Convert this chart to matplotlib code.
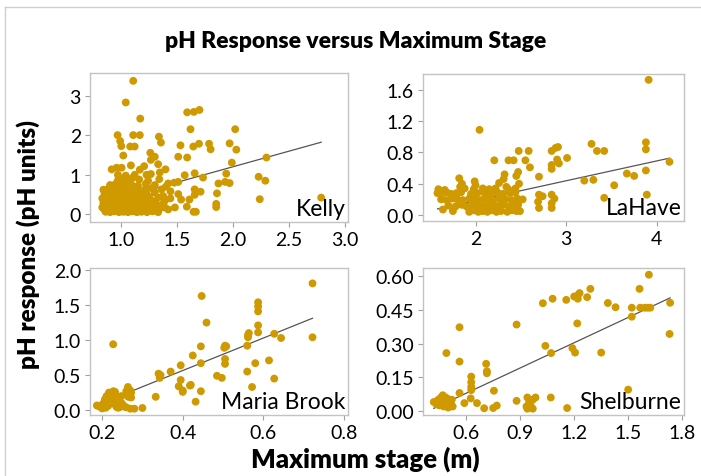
import numpy as np
import matplotlib
matplotlib.use("Agg")
import matplotlib.pyplot as plt
from matplotlib.lines import Line2D

plt.rcParams['font.family'] = ['Lato', 'DejaVu Sans']

# === Data ===
kelly_x = [1.107, 1.04, 1.17, 1.59, 1.65, 1.70, 1.62, 0.967, 1.107, 1.166, 0.99, 1.0, 1.018, 1.08, 1.12,
           1.337, 1.355, 1.26, 1.30, 1.265, 1.53, 1.51, 1.59, 1.645, 1.696, 1.786, 1.80, 1.086, 1.166, 1.205,
           0.914, 0.958, 1.003, 1.33, 1.345, 1.396, 1.265, 1.226, 1.568, 1.657, 1.732, 1.51, 1.474, 1.42,
           1.87, 1.93, 1.71, 1.657, 1.51, 1.536, 1.61, 1.657, 1.857, 1.85, 1.85, 1.48, 1.587, 1.647, 1.668,
           1.375, 1.39, 1.32, 1.39, 2.02, 1.97, 2.03, 1.99, 1.94, 1.97, 2.30, 2.23, 2.29, 2.24, 2.79,
           0.86, 0.90, 0.94, 0.98, 1.02, 1.06, 1.10, 1.14, 1.18, 1.23, 1.28, 1.33,
           0.83, 0.87, 0.91, 0.95, 0.99, 1.03, 1.07, 1.11, 1.15, 1.19, 1.24, 1.29, 1.35, 1.42,
           0.84, 0.88, 0.92, 0.96, 1.00, 1.04, 1.08, 1.12, 1.16, 1.21, 1.26, 1.31, 1.37,
           0.83, 0.87, 0.91, 0.95, 0.99, 1.03, 1.07, 1.11, 1.15, 1.20, 1.25, 1.33, 1.44,
           0.85, 0.89, 0.93, 0.97, 1.01, 1.05, 1.09, 1.13, 1.18, 1.23, 1.30,
           0.84, 0.88, 0.92, 0.96, 1.00, 1.04, 1.08, 1.14, 1.21, 1.27, 1.36, 1.44,
           0.90, 0.95, 1.00, 1.04, 1.09, 1.15, 1.22, 1.30, 1.40,
           0.97, 1.02, 1.06, 1.10, 1.16, 1.24, 1.34, 1.04, 1.12, 0.97,
           0.85, 0.89, 0.93, 0.97, 1.01, 1.05, 1.09, 1.13, 1.17, 1.21, 1.26, 1.31,
           0.86, 0.90, 0.94, 0.98, 1.02, 1.06, 1.10, 1.14, 1.18, 1.22, 1.27,
           0.85, 0.89, 0.93, 0.97, 1.01, 1.05, 1.09, 1.13, 1.17, 1.22, 1.28,
           0.87, 0.91, 0.95, 0.99, 1.03, 1.07, 1.11, 1.16, 1.20, 1.25]
kelly_y = [3.39, 2.84, 2.43, 2.59, 2.60, 2.65, 2.16, 2.01, 2.01, 2.01, 1.86, 1.73, 1.49, 1.72, 1.72,
           1.97, 1.82, 1.56, 1.46, 1.38, 1.75, 1.46, 1.44, 1.72, 1.79, 1.79, 1.65, 1.24, 1.13, 1.22,
           1.14, 1.18, 1.18, 1.27, 1.06, 1.14, 1.02, 1.00, 0.99, 1.04, 0.93, 0.82, 0.80, 0.78,
           0.78, 0.82, 0.57, 0.63, 0.51, 0.37, 0.37, 0.49, 0.53, 0.26, 0.18, 0.17, 0.19, 0.06, 0.06,
           0.46, 0.34, 0.21, 0.17, 2.16, 1.80, 1.64, 1.31, 1.03, 0.79, 1.44, 0.95, 0.85, 0.38, 0.42,
           0.06, 0.05, 0.07, 0.05, 0.06, 0.05, 0.07, 0.05, 0.06, 0.05, 0.07, 0.05,
           0.17, 0.15, 0.18, 0.14, 0.17, 0.15, 0.18, 0.14, 0.17, 0.15, 0.18, 0.14, 0.16, 0.12,
           0.28, 0.26, 0.29, 0.25, 0.28, 0.26, 0.29, 0.25, 0.28, 0.26, 0.30, 0.27, 0.25,
           0.40, 0.37, 0.39, 0.36, 0.40, 0.37, 0.39, 0.36, 0.40, 0.37, 0.39, 0.42, 0.40,
           0.52, 0.49, 0.53, 0.50, 0.54, 0.49, 0.52, 0.48, 0.53, 0.50, 0.55,
           0.62, 0.64, 0.60, 0.66, 0.62, 0.65, 0.60, 0.64, 0.62, 0.66, 0.63, 0.58,
           0.74, 0.77, 0.73, 0.78, 0.75, 0.72, 0.77, 0.74, 0.70,
           0.86, 0.90, 0.87, 0.92, 0.88, 0.85, 0.89, 0.98, 1.00, 1.00,
           0.11, 0.10, 0.12, 0.10, 0.11, 0.12, 0.10, 0.11, 0.12, 0.10, 0.11, 0.10,
           0.22, 0.21, 0.23, 0.21, 0.22, 0.23, 0.21, 0.22, 0.23, 0.21, 0.22,
           0.33, 0.32, 0.34, 0.32, 0.33, 0.34, 0.32, 0.33, 0.34, 0.32, 0.33,
           0.45, 0.44, 0.46, 0.44, 0.45, 0.46, 0.44, 0.45, 0.46, 0.44]

lahave_x = [2.044, 2.476, 2.586, 2.207, 2.364, 2.42, 2.55, 2.60, 2.47, 2.45, 2.32, 2.31, 2.70, 1.82, 1.85,
            1.83, 1.99, 2.0, 2.26, 2.34, 2.48, 2.44, 2.70, 2.74, 2.69, 2.70, 2.84, 2.885, 2.91, 2.90,
            2.92, 2.84, 2.84, 3.01, 2.84, 2.87, 2.84, 2.84, 3.28, 3.34, 3.42, 3.20, 3.30, 3.53, 3.42,
            3.67, 3.75, 3.88, 3.88, 3.88, 3.89, 3.91, 4.14,
            1.64, 1.75, 1.93, 1.98, 2.03, 2.08, 2.13, 2.18, 2.23, 2.28, 2.35, 2.40, 2.45, 2.49,
            1.70, 1.78, 1.85, 1.90, 1.96, 2.01, 2.06, 2.11, 2.16, 2.21, 2.26, 2.31, 2.37, 2.42, 2.47,
            1.62, 1.68, 1.74, 1.80, 1.86, 1.93, 1.99, 2.05, 2.10, 2.15, 2.20, 2.27, 2.33, 2.40, 2.46, 2.52,
            1.58, 1.63, 1.68, 1.73, 1.79, 1.84, 1.95, 2.02, 2.09, 2.14, 2.19, 2.24, 2.30, 2.38, 2.44,
            1.59, 1.66, 1.88, 1.98, 2.08, 2.15, 2.22, 2.36]
lahave_y = [1.09, 0.82, 0.82, 0.70, 0.70, 0.70, 0.70, 0.61, 0.55, 0.50, 0.52, 0.46, 0.49, 0.47, 0.40,
            0.36, 0.43, 0.38, 0.41, 0.36, 0.40, 0.34, 0.26, 0.24, 0.17, 0.09, 0.82, 0.86, 0.87, 0.71,
            0.66, 0.64, 0.59, 0.73, 0.26, 0.21, 0.15, 0.09, 0.91, 0.82, 0.82, 0.44, 0.45, 0.38, 0.22,
            0.53, 0.50, 0.93, 0.84, 0.57, 0.26, 1.73, 0.68,
            0.07, 0.05, 0.04, 0.06, 0.04, 0.05, 0.04, 0.06, 0.04, 0.05, 0.04, 0.06, 0.05, 0.05,
            0.12, 0.11, 0.13, 0.11, 0.12, 0.13, 0.11, 0.12, 0.13, 0.11, 0.12, 0.13, 0.11, 0.12, 0.13,
            0.20, 0.19, 0.21, 0.20, 0.19, 0.21, 0.20, 0.19, 0.21, 0.20, 0.19, 0.21, 0.20, 0.19, 0.21, 0.20,
            0.28, 0.27, 0.29, 0.27, 0.28, 0.29, 0.27, 0.28, 0.29, 0.27, 0.28, 0.29, 0.27, 0.28, 0.29,
            0.33, 0.32, 0.34, 0.33, 0.34, 0.33, 0.34, 0.33]

maria_x = [0.447, 0.459, 0.2275, 0.445, 0.425, 0.445, 0.395, 0.37, 0.34, 0.343, 0.345, 0.395, 0.39, 0.40,
           0.40, 0.42, 0.333, 0.432, 0.445, 0.264, 0.27, 0.272, 0.26, 0.265, 0.272, 0.26, 0.27, 0.28, 0.30,
           0.19, 0.202, 0.207, 0.211, 0.215, 0.217, 0.223, 0.228, 0.232, 0.220, 0.232, 0.236, 0.24, 0.244,
           0.209, 0.20, 0.23, 0.236, 0.24, 0.248, 0.244, 0.187, 0.197, 0.215, 0.225, 0.21, 0.25, 0.255,
           0.503, 0.505, 0.508, 0.505, 0.505, 0.485, 0.497, 0.56, 0.562, 0.562, 0.564, 0.587, 0.587, 0.587,
           0.587, 0.587, 0.56, 0.572, 0.58, 0.614, 0.627, 0.644, 0.627, 0.722, 0.722, 0.418]
maria_y = [1.63, 1.25, 0.94, 0.91, 0.78, 0.67, 0.64, 0.55, 0.52, 0.46, 0.50, 0.43, 0.34, 0.28,
           0.26, 0.36, 0.19, 0.12, 0.27, 0.33, 0.28, 0.25, 0.27, 0.19, 0.18, 0.04, 0.02, 0.02, 0.03,
           0.06, 0.09, 0.153, 0.20, 0.153, 0.25, 0.215, 0.27, 0.26, 0.105, 0.081, 0.043, 0.033, 0.043,
           0.033, 0.024, 0.18, 0.20, 0.18, 0.20, 0.129, 0.066, 0.04, 0.06, 0.13, 0.12, 0.09, 0.05,
           0.89, 0.92, 0.91, 0.73, 0.66, 0.49, 0.46, 0.92, 1.07, 1.04, 1.10, 1.54, 1.48, 1.41,
           1.21, 1.11, 0.55, 0.33, 0.67, 0.71, 1.09, 1.03, 0.45, 1.81, 1.04, 0.35]

shel_x = [1.026, 1.08, 0.88, 0.563, 0.49, 0.563, 1.04, 1.072, 0.711, 0.715, 0.715, 0.628, 0.628, 0.628,
          0.628, 0.563, 0.754, 0.625, 0.59, 0.66, 0.70, 0.75, 0.77, 0.88, 0.94, 0.935, 0.95, 0.97, 0.985,
          0.96, 0.94, 0.97, 1.07, 1.615, 1.563, 1.29, 1.156, 1.20, 1.22, 1.23, 1.22, 1.272, 1.387, 1.43,
          1.52, 1.567, 1.593, 1.608, 1.623, 1.52, 1.733, 1.73, 1.217, 1.19, 1.205, 1.35, 1.5, 1.161,
          0.42, 0.435, 0.445, 0.45, 0.46, 0.465, 0.47, 0.475, 0.48, 0.49, 0.495, 0.50, 0.505, 0.515,
          0.52, 0.525, 0.455, 0.485]
shel_y = [0.48, 0.50, 0.385, 0.373, 0.258, 0.22, 0.29, 0.258, 0.21, 0.177, 0.168, 0.153, 0.128, 0.108,
          0.093, 0.08, 0.09, 0.056, 0.035, 0.035, 0.012, 0.013, 0.024, 0.045, 0.06, 0.02, 0.04, 0.05, 0.06,
          0.02, 0.01, 0.01, 0.06, 0.607, 0.544, 0.544, 0.495, 0.51, 0.515, 0.525, 0.50, 0.507, 0.481, 0.462,
          0.46, 0.46, 0.46, 0.46, 0.46, 0.42, 0.482, 0.343, 0.39, 0.28, 0.26, 0.26, 0.095, 0.013,
          0.04, 0.03, 0.05, 0.025, 0.06, 0.035, 0.07, 0.02, 0.045, 0.03, 0.055, 0.015, 0.04, 0.03,
          0.05, 0.02, 0.045, 0.06]

# fitted lines (slope, intercept)
fits = {"Kelly": (0.79, -0.375), "LaHave": (0.254, -0.324),
        "Maria Brook": (2.32, -0.363), "Shelburne": (0.375, -0.146)}

panels = [
    ("Kelly", kelly_x, kelly_y, [0.1284, 0.5325, 0.368, 0.3124], (0.72, 3.03), (-0.2, 3.59),
     [1.0, 1.5, 2.0, 2.5, 3.0], "{:.1f}", [0, 1, 2, 3], "{:.0f}"),
    ("LaHave", lahave_x, lahave_y, [0.6034, 0.5346, 0.3723, 0.3082], (1.42, 4.30), (-0.077, 1.805),
     [2, 3, 4], "{:.0f}", [0.0, 0.4, 0.8, 1.2, 1.6], "{:.1f}"),
    ("Maria Brook", maria_x, maria_y, [0.1284, 0.1279, 0.368, 0.3082], (0.17, 0.81), (-0.07, 2.03),
     [0.2, 0.4, 0.6, 0.8], "{:.1f}", [0.0, 0.5, 1.0, 1.5, 2.0], "{:.1f}"),
    ("Shelburne", shel_x, shel_y, [0.6034, 0.1279, 0.3723, 0.3082], (0.36, 1.81), (-0.018, 0.637),
     [0.6, 0.9, 1.2, 1.5, 1.8], "{:.1f}", [0.0, 0.15, 0.30, 0.45, 0.60], "{:.2f}"),
]

dot_color = '#CF9900'
frame_color = '#c3c3c3'

fig = plt.figure(figsize=(7.01, 4.77), dpi=100)

for name, xs, ys, rect, xl, yl, xt, xf, yt, yf in panels:
    ax = fig.add_axes(rect)
    # fit line sits under the dots
    m, b = fits[name]
    lx = np.array([min(xs), max(xs)])
    ax.plot(lx, m * lx + b, color='#555555', lw=0.9, zorder=1)
    ax.scatter(xs, ys, s=32, color=dot_color, edgecolors='none', zorder=2)
    ax.set_xlim(*xl)
    ax.set_ylim(*yl)
    ax.set_xticks(xt)
    ax.set_xticklabels([xf.format(v) for v in xt])
    ax.set_yticks(yt)
    ax.set_yticklabels([yf.format(v) for v in yt])
    ax.tick_params(direction='out', length=3.5, width=0.8, color='#a0a0a0',
                   labelsize=14, pad=3)
    for sp in ax.spines.values():
        sp.set_color(frame_color)
        sp.set_linewidth(1.0)
    ax.text(0.99, 0.02, name, transform=ax.transAxes, ha='right', va='bottom',
            fontsize=16.5, zorder=4)

# titles and axis labels
fig.text(0.508, 1 - 42 / 477, "pH Response versus Maximum Stage", ha='center', va='center',
         fontsize=16.5, fontweight='heavy')
fig.text(28 / 701, 1 - 245 / 477, "pH response (pH units)", ha='center', va='center',
         rotation=90, fontsize=17.5, fontweight='heavy')
fig.text(365 / 701, 1 - 459 / 477, "Maximum stage (m)", ha='center', va='center',
         fontsize=18.5, fontweight='heavy')

# outer frame (top and left edges visible)
fig.add_artist(Line2D([5 / 701, 1.0], [1 - 8 / 477, 1 - 8 / 477], transform=fig.transFigure,
                      color='#d0d0d0', lw=1))
fig.add_artist(Line2D([5 / 701, 5 / 701], [0.0, 1 - 8 / 477], transform=fig.transFigure,
                      color='#d0d0d0', lw=1))

plt.savefig("out.png", dpi=100, facecolor='white')
